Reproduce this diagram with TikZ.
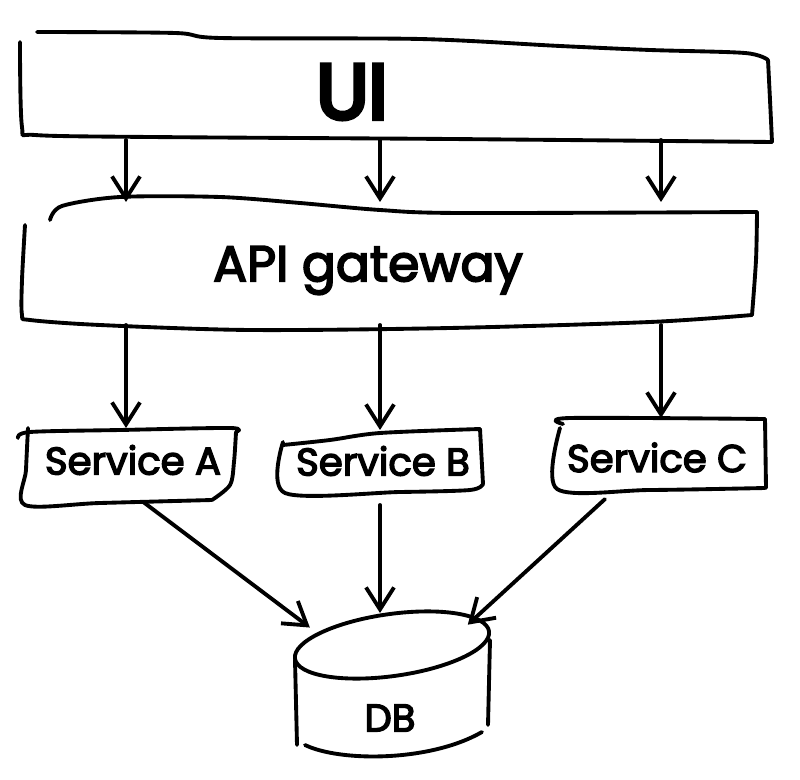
\documentclass[tikz,border=0pt]{standalone}
\usepackage{fontspec}
\setmainfont{Poppins}
\newfontfamily\sketchfont{Poppins}[FakeBold=3.5]
\newfontfamily\sketchfontheavy{Poppins}[FakeBold=6]
\usetikzlibrary{arrows.meta,shapes.geometric}

\begin{document}
\begin{tikzpicture}[>={Straight Barb[length=2.2mm,width=2.8mm]},
    pen/.style={line width=1.1pt, line cap=round, line join=round},
    arr/.style={->, pen},
    box/.style={inner sep=0pt, outer sep=0pt},
    big/.style={font=\sketchfontheavy\fontsize{22}{24}\selectfont},
    mid/.style={font=\sketchfont\fontsize{14.3}{16}\selectfont},
    small/.style={font=\sketchfont\fontsize{11}{13}\selectfont}]
\useasboundingbox (0,0) rectangle (8,-7.8);

% boxes
\node[box, minimum width=7.5cm, minimum height=1.06cm,
      label={[big, xshift=-4.3mm, yshift=-0.5mm]center:UI}] (ui) at (3.95,-0.87) {};
\node[box, minimum width=7.35cm, minimum height=1.23cm,
      label={[mid, xshift=-2.2mm, yshift=-0.7mm]center:API gateway}] (api) at (3.9,-2.635) {};
\node[box, minimum width=2.1cm, minimum height=0.74cm,
      label={[small, xshift=0.7mm, yshift=0.5mm]center:Service A}] (sa) at (1.26,-4.65) {};
\node[box, minimum width=1.95cm, minimum height=0.62cm,
      label={[small, xshift=0.3mm]center:Service B}] (sb) at (3.8,-4.61) {};
\node[box, minimum width=2.08cm, minimum height=0.71cm,
      label={[small, xshift=-0.4mm, yshift=-0.4mm]center:Service C}] (sc) at (6.61,-4.535) {};
\node[box, ellipse, minimum width=1.96cm, minimum height=0.64cm,
      label={[small, shift={(-0.02,-0.73)}]center:DB}] (db) at (3.92,-6.45) {};

% sketchy outlines
\draw[pen] plot[smooth] coordinates {(0.37,-0.32) (1.75,-0.33) (2.2,-0.38) (4.2,-0.39) (5.6,-0.46) (6.5,-0.5) (7.45,-0.53) (7.68,-0.6)};
\draw[pen] plot[smooth] coordinates {(0.2,-0.42) (0.22,-1.27) (0.35,-1.35) (1.5,-1.37) (4.5,-1.39) (7.72,-1.42)};
\draw[pen] plot[smooth] coordinates {(7.68,-0.6) (7.7,-1.0) (7.72,-1.42)};

\draw[pen] plot[smooth] coordinates {(0.5,-2.2) (0.62,-2.06) (1.2,-1.97) (2.2,-1.97) (3.0,-2.03) (3.8,-2.1) (4.6,-2.13) (7.57,-2.12)};
\draw[pen] plot[smooth] coordinates {(0.25,-2.25) (0.22,-2.8) (0.22,-3.15) (0.3,-3.2) (1.0,-3.25) (2.5,-3.3) (4.5,-3.28) (6.5,-3.22) (7.52,-3.15)};
\draw[pen] plot[smooth] coordinates {(7.57,-2.12) (7.56,-2.6) (7.52,-3.15)};

\draw[pen] plot[smooth] coordinates {(0.18,-4.38) (0.3,-4.32) (1.2,-4.3) (2.3,-4.28) (2.36,-4.32)};
\draw[pen] plot[smooth] coordinates {(2.36,-4.32) (2.34,-4.62) (2.3,-4.85) (2.12,-5.0)};
\draw[pen] plot[smooth] coordinates {(0.28,-4.28) (0.26,-4.7) (0.25,-5.05) (1.0,-5.03) (2.12,-5.0)};

\draw[pen] plot[smooth] coordinates {(2.83,-4.45) (3.3,-4.4) (3.8,-4.33) (4.8,-4.29)};
\draw[pen] plot[smooth] coordinates {(2.83,-4.42) (2.85,-4.93) (4.0,-4.92) (4.7,-4.9) (4.83,-4.84)};
\draw[pen] (4.8,-4.29) -- (4.83,-4.84);

\draw[pen] plot[smooth] coordinates {(5.63,-4.24) (5.7,-4.18) (7.65,-4.19)};
\draw[pen] plot[smooth] coordinates {(5.6,-4.28) (5.57,-4.89) (6.5,-4.9) (7.65,-4.88)};
\draw[pen] (7.65,-4.19) -- (7.66,-4.88);

% database
\draw[pen, rotate around={8:(3.92,-6.45)}] (3.92,-6.45) ellipse (0.98 and 0.31);
\draw[pen] (2.95,-6.6) -- (2.97,-7.45);
\draw[pen] (4.9,-6.4) -- (4.88,-7.25);
\draw[pen] (3.05,-7.45) .. controls (3.4,-7.62) and (4.3,-7.62) .. (4.82,-7.32);

% arrows
\foreach \s in {sa,sb,sc} {
  \draw[arr] (ui.south -| \s) -- (api.north -| \s);
  \draw[arr] (api.south -| \s.north) -- (\s.north);
}
\draw[arr] (sa.-65) -- (db.168);
\draw[arr, shorten <=1.3mm] (sb.south) -- (sb.south |- db.north);
\draw[arr, shorten <=1.5mm] ([xshift=-4.5mm]sc.south) -- (db.15);
\end{tikzpicture}
\end{document}
